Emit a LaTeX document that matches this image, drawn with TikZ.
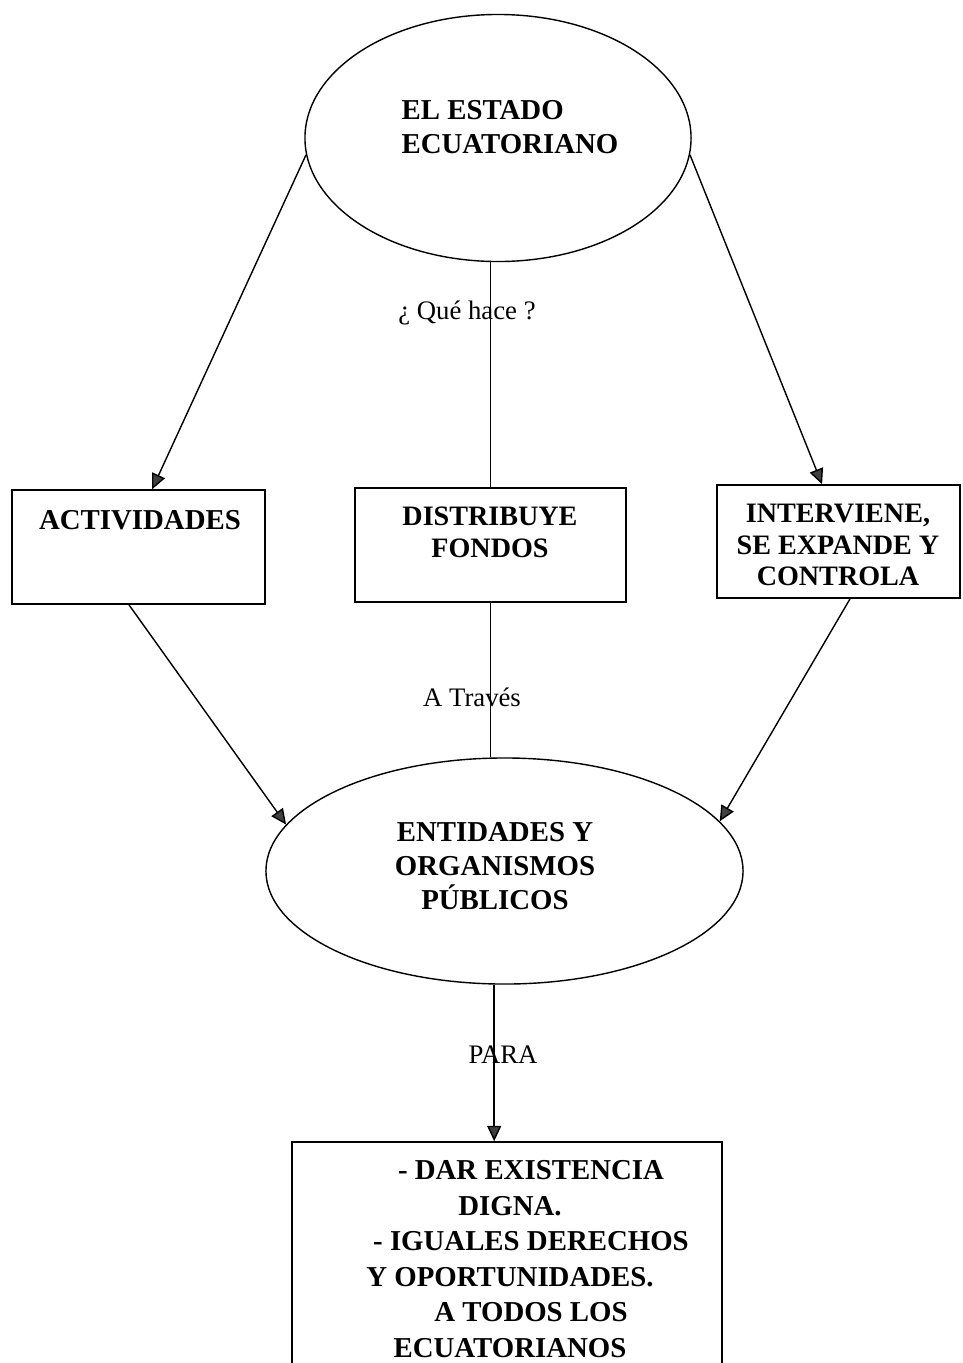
\documentclass[tikz,border=0pt]{standalone}
\usepackage{fontspec}
\setmainfont{Liberation Serif}
\usepackage{tikz}
\usetikzlibrary{shapes.geometric, arrows.meta}

\begin{document}
\begin{tikzpicture}[x = 0.025cm, y = -0.025cm, line width = 1pt,
                        oval/.style = {ellipse, draw, inner sep = 0pt},
                        caja/.style = {rectangle, draw, inner sep = 0pt},
                        texto/.style = {align = center, font = \bfseries\fontsize{20.5}{24}\selectfont},
                        rotulo/.style = {font = \fontsize{19}{22}\selectfont},
                        flecha/.style = {-{Triangle[length = 11pt, width = 10pt, fill = black!75]}}]
      \useasboundingbox (0, 0) rectangle (962, 1363);
      \clip (0, 0) rectangle (962, 1363);
      % formas
      \node [oval, minimum width = 9.65cm, minimum height = 6.175cm] (estado) at (498, 138){};
      \node [caja, minimum width = 6.325cm, minimum height = 2.85cm] (act) at (138.5, 547){};
      \node [caja, minimum width = 6.775cm, minimum height = 2.85cm] (dist) at (490.5, 545){};
      \node [caja, minimum width = 6.075cm, minimum height = 2.825cm] (interv) at (838.5, 541.5){};
      \node [oval, minimum width = 11.925cm, minimum height = 5.65cm] (entes) at (504.5, 871){};
      \node [caja, minimum width = 10.75cm, minimum height = 7.5cm] (fin) at (507, 1292){};
      % textos
      \node [texto, align = left] (estadot) at (510, 127){EL ESTADO\\ECUATORIANO};
      \node [texto] (actt) at (140, 520){ACTIVIDADES};
      \node [texto, font = \bfseries\fontsize{20}{22.5}\selectfont] (distt) at (490, 532){DISTRIBUYE\\FONDOS};
      \node [texto, font = \bfseries\fontsize{20}{22.5}\selectfont] (intervt) at (838, 545){INTERVIENE,\\SE EXPANDE Y\\CONTROLA};
      \node [texto] (entest) at (495, 866){ENTIDADES Y\\ORGANISMOS\\PÚBLICOS};
      \node [texto, font = \bfseries\fontsize{20.5}{25.2}\selectfont] (fint) at (510, 1259){\hspace*{1.05cm}- DAR EXISTENCIA\\DIGNA.\\\hspace*{1.05cm}- IGUALES DERECHOS\\Y OPORTUNIDADES.\\\hspace*{1.05cm}A TODOS LOS\\ECUATORIANOS};
      \node [rotulo] (que) at (467, 313){¿ Qué hace ?};
      \node [rotulo] (traves) at (472, 697){A Través};
      \node [rotulo] (para) at (503, 1055){PARA};
      % conectores
      \draw [flecha] (estado.185) -- ([xshift = 0.34cm]act.north);
      \draw [flecha] (estado.355) -- ([xshift = -0.41cm]interv.north);
      \draw (estado.south -| dist.north) -- (dist.north);
      \draw [flecha] ([xshift = -0.24cm]act.south) -- (entes.168);
      \draw [flecha] ([xshift = 0.29cm]interv.south) -- (entes.13);
      \draw (dist.south) -- (dist.south |- entes.north);
      \draw [flecha] ([xshift = -0.32cm]fin.north |- entes.south) -- ([xshift = -0.32cm]fin.north);
    \end{tikzpicture}
\end{document}
